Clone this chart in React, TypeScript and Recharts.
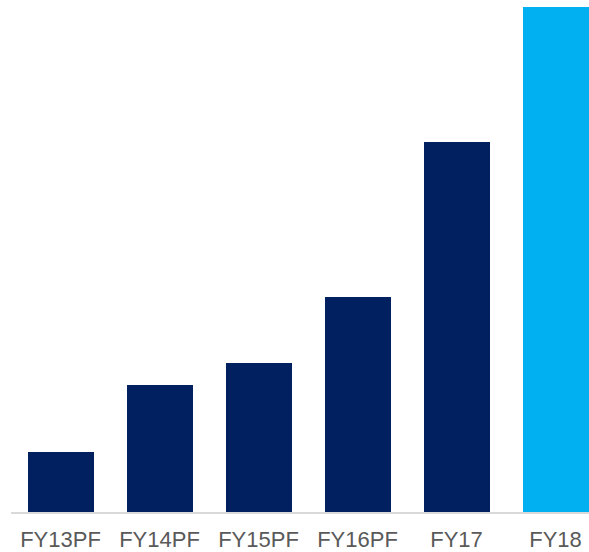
import React from 'react';
import { BarChart, Bar, XAxis, YAxis, Cell } from 'recharts';

const categories = ['FY13PF', 'FY14PF', 'FY15PF', 'FY16PF', 'FY17', 'FY18'];
const values = [61, 128, 150, 216, 371, 506];
const barColors = ['#002060', '#002060', '#002060', '#002060', '#002060', '#00B0F0'];

const data = categories.map((name, i) => ({ name, value: values[i] }));

export default function App() {
    return (
        <div style={{ position: 'absolute', left: 0, top: 0, width: 589, height: 552, overflow: 'hidden', background: '#fff' }}>
            <BarChart
                width={605}
                height={552}
                data={data}
                margin={{ top: 7, right: 0, bottom: 0, left: 11 }}
                barCategoryGap={0}
            >
                <XAxis
                    dataKey="name"
                    height={39}
                    tickSize={0}
                    tickMargin={18}
                    tickLine={false}
                    axisLine={{ stroke: '#D9D9D9', strokeWidth: 2 }}
                    tick={{ fill: '#595959', fontSize: 22, fontFamily: 'Liberation Sans, Arial, sans-serif' }}
                    interval={0}
                />
                <YAxis hide domain={[0, 506]} />
                <Bar dataKey="value" barSize={66} isAnimationActive={false}>
                    {data.map((entry, index) => (
                        <Cell key={`cell-${index}`} fill={barColors[index]} />
                    ))}
                </Bar>
            </BarChart>
        </div>
    );
}
